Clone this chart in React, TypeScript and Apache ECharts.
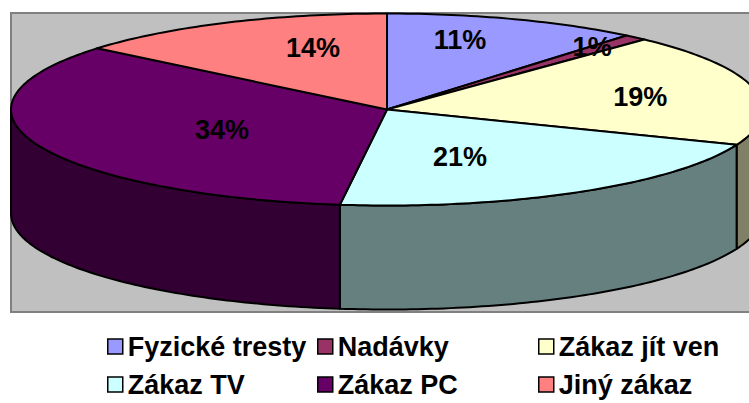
import React, { useEffect, useRef } from "react";
import * as echarts from "echarts";

// ---- data ----
const categories = ["Fyzické tresty", "Nadávky", "Zákaz jít ven", "Zákaz TV", "Zákaz PC", "Jiný zákaz"];
const values = [11, 1, 19, 21, 34, 14];
const colors = ["#9999FF", "#993366", "#FFFFCC", "#CCFFFF", "#660066", "#FF8080"];

// ---- layout (not data) ----
const CX = 387;
const CY = 109.5;
const RX = 376;
const RY = 96;
const DEPTH = 104;
const labelFactors = [
  [0.573, 0.77],
  [0.825, 0.868],
  [0.69, 0.6],
  [0.381, 0.575],
  [0.472, 0.58],
  [0.462, 0.708],
];
const legendCols = [107, 317, 538];
const legendRows = [333, 371];
const FONT = '"Liberation Sans", Arial, sans-serif';

function darken(hex: string): string {
  const n = parseInt(hex.slice(1), 16);
  const r = Math.round(((n >> 16) & 255) / 2);
  const g = Math.round(((n >> 8) & 255) / 2);
  const b = Math.round((n & 255) / 2);
  return "rgb(" + r + "," + g + "," + b + ")";
}

function pt(t: number, dy = 0): number[] {
  return [CX + RX * Math.sin(t), CY - RY * Math.cos(t) + dy];
}

function arc(a: number, b: number, dy = 0): number[][] {
  const steps = Math.max(2, Math.ceil(Math.abs(b - a) / (Math.PI / 180)));
  const out: number[][] = [];
  for (let k = 0; k <= steps; k++) {
    out.push(pt(a + ((b - a) * k) / steps, dy));
  }
  return out;
}

export default function App() {
  const ref = useRef<HTMLDivElement>(null);
  useEffect(() => {
    if (!ref.current) return;
    const chart = echarts.init(ref.current, null, { renderer: "svg" });
    const total = values.reduce((s, v) => s + v, 0);
    const cum: number[] = [0];
    values.forEach((v, i) => cum.push(cum[i] + v));

    const series = categories.map((name, i) => ({
      type: "custom",
      name,
      coordinateSystem: "none",
      itemStyle: { color: colors[i], borderColor: "#000", borderWidth: 1.5 },
      data: [[values[i]]],
      renderItem: (params: any, api: any) => {
        const v = api.value(0);
        const start = (cum[i] / total) * Math.PI * 2;
        const end = start + (v / total) * Math.PI * 2;
        const children: any[] = [];
        const a = Math.max(start, Math.PI / 2);
        const b = Math.min(end, (Math.PI * 3) / 2);
        if (b > a) {
          const pts = arc(a, b).concat(arc(b, a, DEPTH));
          children.push({
            type: "polygon",
            z2: 1,
            shape: { points: pts },
            style: { fill: darken(colors[i]), stroke: "#000", lineWidth: 2, lineJoin: "round" },
          });
        }
        const topPts = [[CX, CY]].concat(arc(start, end));
        children.push({
          type: "polygon",
          z2: 2,
          shape: { points: topPts },
          style: { fill: colors[i], stroke: "#000", lineWidth: 2, lineJoin: "round" },
        });
        const mid = (start + end) / 2;
        const f = labelFactors[i];
        children.push({
          type: "text",
          z2: 3,
          x: CX + RX * Math.sin(mid) * f[0],
          y: CY - RY * Math.cos(mid) * f[1],
          style: {
            text: Math.round((v / total) * 100) + "%",
            fill: "#000",
            fontSize: 27,
            fontWeight: "bold",
            fontFamily: FONT,
            align: "center",
            verticalAlign: "middle",
          },
        });
        return { type: "group", children };
      },
    }));

    const legends = categories.map((name, i) => ({
      data: [name],
      left: legendCols[i % 3],
      top: legendRows[Math.floor(i / 3)],
      padding: 0,
      icon: "rect",
      itemWidth: 15,
      itemHeight: 15,
      selectedMode: false,
      itemStyle: { color: colors[i], borderColor: "#000", borderWidth: 1.5 },
      textStyle: { fontSize: 27, fontWeight: "bold", color: "#000", fontFamily: FONT },
    }));

    chart.setOption({
      animation: false,
      backgroundColor: "#fff",
      graphic: [
        {
          type: "rect",
          z: 0,
          silent: true,
          shape: { x: 11, y: 13, width: 770, height: 299 },
          style: { fill: "#C0C0C0", stroke: "#808080", lineWidth: 2 },
        },
      ],
      legend: legends,
      series,
    } as any);
    return () => chart.dispose();
  }, []);
  return (
    <div
      ref={ref}
      style={{ position: "fixed", left: 0, top: 0, width: 749, height: 403 }}
    />
  );
}
